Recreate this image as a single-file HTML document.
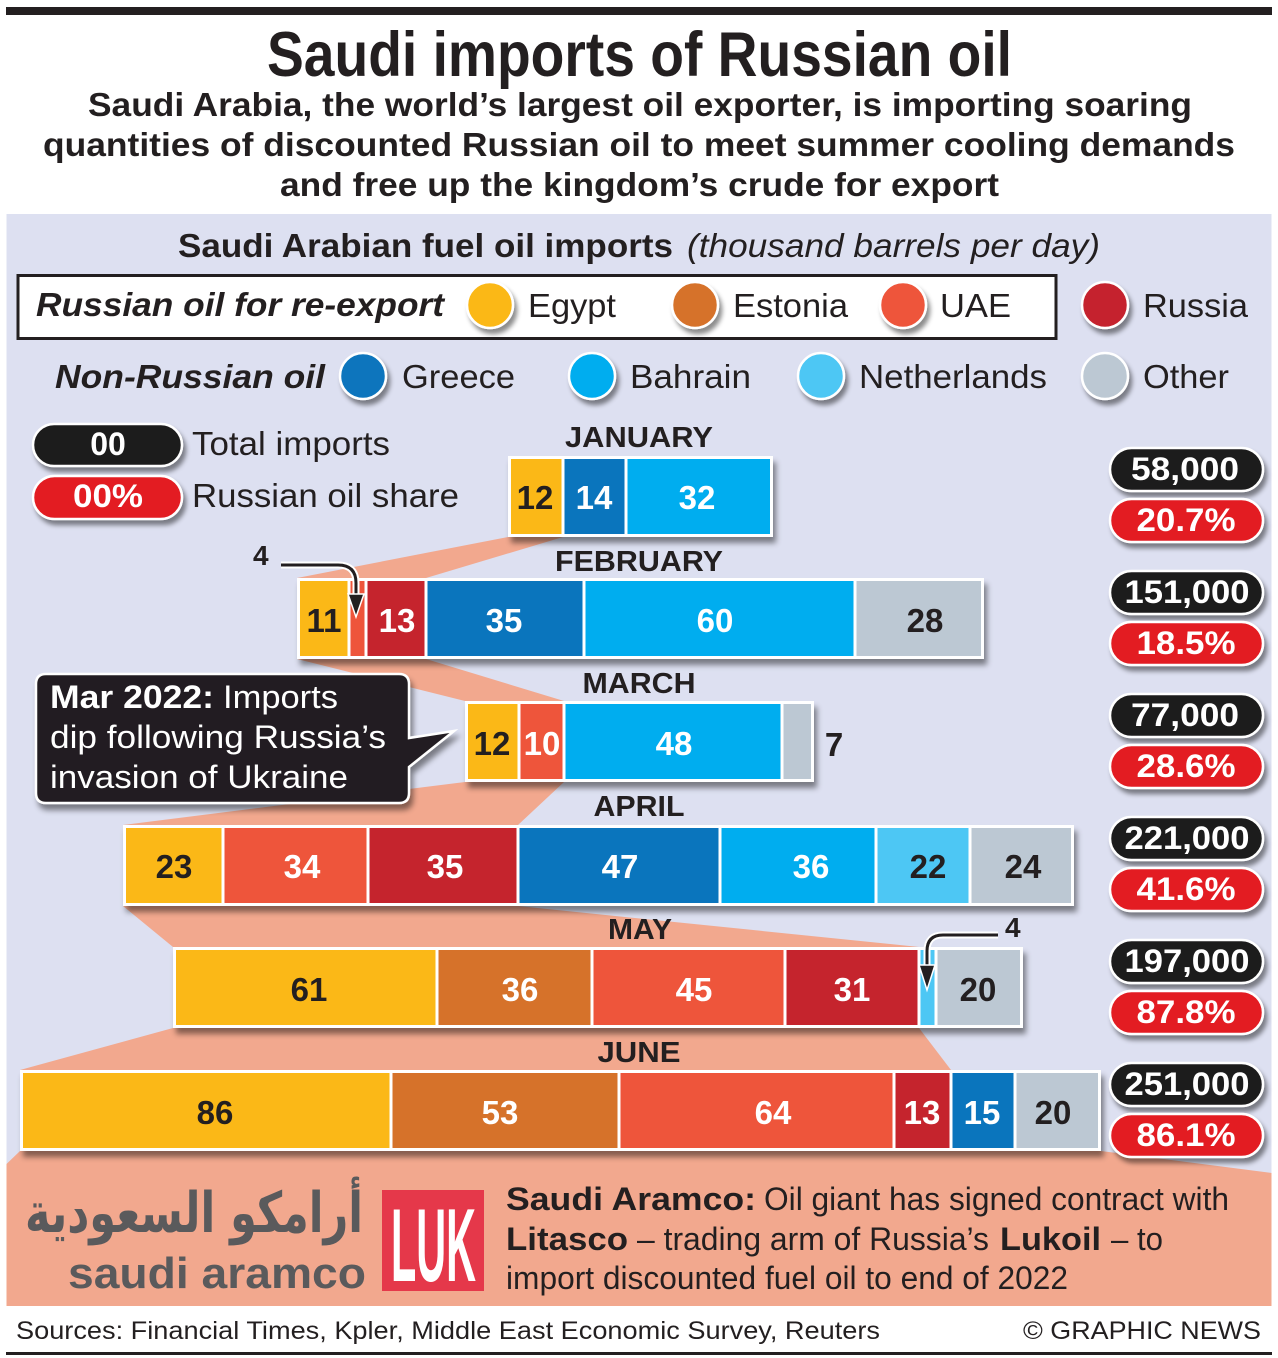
<!DOCTYPE html>
<html><head><meta charset="utf-8"><style>
html,body{margin:0;padding:0;background:#fff;}
svg{display:block;}
text{font-family:"Liberation Sans",Arial,sans-serif;fill:#231f20;}
.b{font-weight:bold;}
.w{fill:#fff;}
</style></head><body>
<svg width="1278" height="1358" viewBox="0 0 1278 1358" xmlns="http://www.w3.org/2000/svg">
<defs>
<filter id="sh" x="-20%" y="-30%" width="150%" height="180%"><feDropShadow dx="3" dy="6" stdDeviation="3" flood-color="#000" flood-opacity="0.45"/></filter>
<filter id="shs" x="-30%" y="-30%" width="180%" height="180%"><feDropShadow dx="3" dy="5" stdDeviation="2.5" flood-color="#000" flood-opacity="0.45"/></filter>
</defs>
<rect x="0" y="0" width="1278" height="1358" fill="#fff"/>
<rect x="6" y="7" width="1266" height="8" fill="#231f20"/>
<text class="b" x="267" y="76" font-size="63" textLength="745" lengthAdjust="spacingAndGlyphs">Saudi imports of Russian oil</text>
<text class="b" x="88" y="116" font-size="33" textLength="1104" lengthAdjust="spacingAndGlyphs">Saudi Arabia, the world’s largest oil exporter, is importing soaring</text>
<text class="b" x="43" y="156" font-size="33" textLength="1192" lengthAdjust="spacingAndGlyphs">quantities of discounted Russian oil to meet summer cooling demands</text>
<text class="b" x="280" y="196" font-size="33" textLength="719" lengthAdjust="spacingAndGlyphs">and free up the kingdom’s crude for export</text>

<rect x="6.5" y="214" width="1265" height="1092" fill="#dde0f1"/>

<!-- salmon bands -->
<g fill="#f2a88e">
<polygon points="508,537 563,537 426,578 297,578"/>
<polygon points="297,659 426,659 564,701 465,701"/>
<polygon points="465,782 564,782 518,825 123,825"/>
<polygon points="123,906 518,906 919,947 173,947"/>
<polygon points="173,1028 919,1028 951,1070 20,1070"/>
<polygon points="20,1151 1101,1151 1271.5,1173 1271.5,1306 6.5,1306 6.5,1164"/>
</g>

<text class="b" x="178" y="257" font-size="33" textLength="495" lengthAdjust="spacingAndGlyphs">Saudi Arabian fuel oil imports</text>
<text x="687" y="257" font-size="33" font-style="italic" textLength="413" lengthAdjust="spacingAndGlyphs">(thousand barrels per day)</text>

<rect x="18" y="275.5" width="1038" height="63" fill="#fff" stroke="#231f20" stroke-width="3"/>
<text class="b" x="36" y="316" font-size="33" font-style="italic" textLength="408" lengthAdjust="spacingAndGlyphs">Russian oil for re-export</text>
<text class="b" x="55" y="388" font-size="33" font-style="italic" textLength="270" lengthAdjust="spacingAndGlyphs">Non-Russian oil</text>

<g stroke="#fff" stroke-width="2.5" filter="url(#shs)">
<circle cx="490" cy="305" r="23" fill="#fbb817"/>
<circle cx="695" cy="305" r="23" fill="#d6722a"/>
<circle cx="903" cy="305" r="23" fill="#ee553b"/>
<circle cx="1105" cy="305" r="23" fill="#c5242d"/>
<circle cx="363" cy="376" r="23" fill="#0a75bd"/>
<circle cx="592" cy="376" r="23" fill="#00adef"/>
<circle cx="821" cy="376" r="23" fill="#4dc7f4"/>
<circle cx="1105" cy="376" r="23" fill="#bcc8d3"/>
</g>
<g font-size="33">
<text x="528" y="317" textLength="88" lengthAdjust="spacingAndGlyphs">Egypt</text>
<text x="733" y="317" textLength="115" lengthAdjust="spacingAndGlyphs">Estonia</text>
<text x="940" y="317" textLength="71" lengthAdjust="spacingAndGlyphs">UAE</text>
<text x="1143" y="317" textLength="105" lengthAdjust="spacingAndGlyphs">Russia</text>
<text x="402" y="388" textLength="113" lengthAdjust="spacingAndGlyphs">Greece</text>
<text x="630" y="388" textLength="121" lengthAdjust="spacingAndGlyphs">Bahrain</text>
<text x="859" y="388" textLength="188" lengthAdjust="spacingAndGlyphs">Netherlands</text>
<text x="1143" y="388" textLength="86" lengthAdjust="spacingAndGlyphs">Other</text>
</g>

<!-- key pills -->
<g stroke="#fff" stroke-width="2.5" filter="url(#shs)">
<rect x="33" y="424" width="149" height="42" rx="21" fill="#1d1b1c"/>
<rect x="33" y="476" width="149" height="43" rx="21.5" fill="#e31b23"/>
</g>
<text class="b w" x="108" y="455" font-size="32" text-anchor="middle">00</text>
<text class="b w" x="108" y="507" font-size="32" text-anchor="middle" textLength="70" lengthAdjust="spacingAndGlyphs">00%</text>
<text x="192" y="455" font-size="33" textLength="198" lengthAdjust="spacingAndGlyphs">Total imports</text>
<text x="192" y="507" font-size="33" textLength="267" lengthAdjust="spacingAndGlyphs">Russian oil share</text>

<!-- month labels -->
<g class="b" font-size="29" font-weight="bold" text-anchor="middle">
<text x="639" y="447" textLength="148" lengthAdjust="spacingAndGlyphs">JANUARY</text>
<text x="639" y="571" textLength="168" lengthAdjust="spacingAndGlyphs">FEBRUARY</text>
<text x="639" y="693" textLength="113" lengthAdjust="spacingAndGlyphs">MARCH</text>
<text x="639" y="816" textLength="91" lengthAdjust="spacingAndGlyphs">APRIL</text>
<text x="640" y="939" textLength="64" lengthAdjust="spacingAndGlyphs">MAY</text>
<text x="639" y="1062" textLength="83" lengthAdjust="spacingAndGlyphs">JUNE</text>
</g>

<!-- bars: white bases -->
<g fill="#fff" filter="url(#sh)">
<rect x="508" y="456" width="265" height="81"/>
<rect x="297" y="578" width="687" height="81"/>
<rect x="465" y="701" width="349" height="81"/>
<rect x="123" y="825" width="951" height="81"/>
<rect x="173" y="947" width="850" height="81"/>
<rect x="20" y="1070" width="1081" height="81"/>
</g>
<!-- January -->
<rect x="511" y="459" width="50.5" height="75" fill="#fbb817"/>
<rect x="564.5" y="459" width="60" height="75" fill="#0a75bd"/>
<rect x="627.5" y="459" width="142.5" height="75" fill="#00adef"/>
<!-- February -->
<rect x="300" y="581" width="47.5" height="75" fill="#fbb817"/>
<rect x="350.5" y="581" width="14" height="75" fill="#ee553b"/>
<rect x="367.5" y="581" width="57" height="75" fill="#c5242d"/>
<rect x="427.5" y="581" width="155" height="75" fill="#0a75bd"/>
<rect x="585.5" y="581" width="268" height="75" fill="#00adef"/>
<rect x="856.5" y="581" width="124.5" height="75" fill="#bcc8d3"/>
<!-- March -->
<rect x="468" y="704" width="49.5" height="75" fill="#fbb817"/>
<rect x="520.5" y="704" width="42" height="75" fill="#ee553b"/>
<rect x="565.5" y="704" width="215" height="75" fill="#00adef"/>
<rect x="783.5" y="704" width="27.5" height="75" fill="#bcc8d3"/>
<!-- April -->
<rect x="126" y="828" width="95.5" height="75" fill="#fbb817"/>
<rect x="224.5" y="828" width="142" height="75" fill="#ee553b"/>
<rect x="369.5" y="828" width="147" height="75" fill="#c5242d"/>
<rect x="519.5" y="828" width="199" height="75" fill="#0a75bd"/>
<rect x="721.5" y="828" width="153" height="75" fill="#00adef"/>
<rect x="877.5" y="828" width="91" height="75" fill="#4dc7f4"/>
<rect x="971.5" y="828" width="99.5" height="75" fill="#bcc8d3"/>
<!-- May -->
<rect x="176" y="950" width="259.5" height="75" fill="#fbb817"/>
<rect x="438.5" y="950" width="152" height="75" fill="#d6722a"/>
<rect x="593.5" y="950" width="190" height="75" fill="#ee553b"/>
<rect x="786.5" y="950" width="131" height="75" fill="#c5242d"/>
<rect x="920.5" y="950" width="14" height="75" fill="#4dc7f4"/>
<rect x="937.5" y="950" width="82.5" height="75" fill="#bcc8d3"/>
<!-- June -->
<rect x="23" y="1073" width="366.5" height="75" fill="#fbb817"/>
<rect x="392.5" y="1073" width="225" height="75" fill="#d6722a"/>
<rect x="620.5" y="1073" width="272" height="75" fill="#ee553b"/>
<rect x="895.5" y="1073" width="54" height="75" fill="#c5242d"/>
<rect x="952.5" y="1073" width="61" height="75" fill="#0a75bd"/>
<rect x="1016.5" y="1073" width="81.5" height="75" fill="#bcc8d3"/>

<!-- bar labels -->
<g class="b" font-size="33" font-weight="bold" text-anchor="middle">
<text x="535" y="509">12</text>
<text class="w" x="594" y="509">14</text>
<text class="w" x="697" y="509">32</text>

<text x="324" y="632">11</text>
<text class="w" x="397" y="632">13</text>
<text class="w" x="504" y="632">35</text>
<text class="w" x="715" y="632">60</text>
<text x="925" y="632">28</text>

<text x="492" y="755">12</text>
<text class="w" x="542" y="755">10</text>
<text class="w" x="674" y="755">48</text>
<text x="834" y="756">7</text>

<text x="174" y="878">23</text>
<text class="w" x="302" y="878">34</text>
<text class="w" x="445" y="878">35</text>
<text class="w" x="620" y="878">47</text>
<text class="w" x="811" y="878">36</text>
<text x="928" y="878">22</text>
<text x="1023" y="878">24</text>

<text x="309" y="1001">61</text>
<text class="w" x="520" y="1001">36</text>
<text class="w" x="694" y="1001">45</text>
<text class="w" x="852" y="1001">31</text>
<text x="978" y="1001">20</text>

<text x="215" y="1124">86</text>
<text class="w" x="500" y="1124">53</text>
<text class="w" x="773" y="1124">64</text>
<text class="w" x="922" y="1124">13</text>
<text class="w" x="982" y="1124">15</text>
<text x="1053" y="1124">20</text>
</g>

<!-- small "4" annotations -->
<text class="b" x="253" y="565" font-size="28" font-weight="bold">4</text>
<path d="M281 565 H338 Q356 565 356 583 V598" fill="none" stroke="#fff" stroke-width="7"/>
<path d="M281 565 H338 Q356 565 356 583 V598" fill="none" stroke="#231f20" stroke-width="3"/>
<polygon points="348,594 364,594 356,617" fill="#231f20" stroke="#fff" stroke-width="1.5"/>

<text class="b" x="1005" y="937" font-size="28" font-weight="bold">4</text>
<path d="M998 935 H943 Q927 935 927 951 V968" fill="none" stroke="#fff" stroke-width="7"/>
<path d="M998 935 H943 Q927 935 927 951 V968" fill="none" stroke="#231f20" stroke-width="3"/>
<polygon points="919,965 935,965 927,990" fill="#231f20" stroke="#fff" stroke-width="1.5"/>

<!-- callout -->
<g filter="url(#sh)">
<path d="M46 674 H399 Q409 674 409 684 V738 L454 731 L409 767 V793 Q409 803 399 803 H46 Q36 803 36 793 V684 Q36 674 46 674 Z" fill="#231f20" stroke="#fff" stroke-width="2.5"/>
</g>
<text class="b w" x="50" y="708" font-size="32" font-weight="bold" textLength="164" lengthAdjust="spacingAndGlyphs">Mar 2022:</text>
<text class="w" x="223" y="708" font-size="32" textLength="115" lengthAdjust="spacingAndGlyphs">Imports</text>
<text class="w" x="50" y="748" font-size="32" textLength="336" lengthAdjust="spacingAndGlyphs">dip following Russia’s</text>
<text class="w" x="50" y="788" font-size="32" textLength="298" lengthAdjust="spacingAndGlyphs">invasion of Ukraine</text>

<!-- right pills -->
<g stroke="#fff" stroke-width="2.5" filter="url(#shs)">
<rect x="1110" y="448" width="153" height="43" rx="21.5" fill="#1d1b1c"/>
<rect x="1110" y="499" width="153" height="43" rx="21.5" fill="#e31b23"/>
<rect x="1110" y="571" width="153" height="43" rx="21.5" fill="#1d1b1c"/>
<rect x="1110" y="622" width="153" height="43" rx="21.5" fill="#e31b23"/>
<rect x="1110" y="694" width="153" height="43" rx="21.5" fill="#1d1b1c"/>
<rect x="1110" y="745" width="153" height="43" rx="21.5" fill="#e31b23"/>
<rect x="1110" y="817" width="153" height="43" rx="21.5" fill="#1d1b1c"/>
<rect x="1110" y="868" width="153" height="43" rx="21.5" fill="#e31b23"/>
<rect x="1110" y="940" width="153" height="43" rx="21.5" fill="#1d1b1c"/>
<rect x="1110" y="991" width="153" height="43" rx="21.5" fill="#e31b23"/>
<rect x="1110" y="1063" width="153" height="43" rx="21.5" fill="#1d1b1c"/>
<rect x="1110" y="1114" width="153" height="43" rx="21.5" fill="#e31b23"/>
</g>
<g class="b w" font-size="32" font-weight="bold" text-anchor="middle">
<text class="w" x="1185" y="480" textLength="108" lengthAdjust="spacingAndGlyphs">58,000</text>
<text class="w" x="1186" y="531" textLength="99" lengthAdjust="spacingAndGlyphs">20.7%</text>
<text class="w" x="1187" y="603" textLength="125" lengthAdjust="spacingAndGlyphs">151,000</text>
<text class="w" x="1186" y="654" textLength="99" lengthAdjust="spacingAndGlyphs">18.5%</text>
<text class="w" x="1185" y="726" textLength="108" lengthAdjust="spacingAndGlyphs">77,000</text>
<text class="w" x="1186" y="777" textLength="99" lengthAdjust="spacingAndGlyphs">28.6%</text>
<text class="w" x="1187" y="849" textLength="125" lengthAdjust="spacingAndGlyphs">221,000</text>
<text class="w" x="1186" y="900" textLength="99" lengthAdjust="spacingAndGlyphs">41.6%</text>
<text class="w" x="1187" y="972" textLength="125" lengthAdjust="spacingAndGlyphs">197,000</text>
<text class="w" x="1186" y="1023" textLength="99" lengthAdjust="spacingAndGlyphs">87.8%</text>
<text class="w" x="1187" y="1095" textLength="125" lengthAdjust="spacingAndGlyphs">251,000</text>
<text class="w" x="1186" y="1146" textLength="99" lengthAdjust="spacingAndGlyphs">86.1%</text>
</g>

<!-- logos -->
<text x="194" y="1232" font-size="56" font-weight="bold" text-anchor="middle" style="font-family:'DejaVu Sans',sans-serif;fill:#5a5a5c" textLength="338" lengthAdjust="spacingAndGlyphs">أرامكو السعودية</text>
<text x="68" y="1288" font-size="44" font-weight="bold" style="fill:#5a5a5c" textLength="298" lengthAdjust="spacingAndGlyphs">saudi aramco</text>
<rect x="382" y="1190" width="102" height="101" fill="#e5384a"/>
<text class="b w" x="391" y="1281" font-size="104" font-weight="bold" textLength="85" lengthAdjust="spacingAndGlyphs">LUK</text>

<text class="b" x="506" y="1210" font-size="32" font-weight="bold" textLength="250" lengthAdjust="spacingAndGlyphs">Saudi Aramco:</text>
<text x="764" y="1210" font-size="32" textLength="465" lengthAdjust="spacingAndGlyphs">Oil giant has signed contract with</text>
<text class="b" x="506" y="1250" font-size="32" font-weight="bold" textLength="122" lengthAdjust="spacingAndGlyphs">Litasco</text>
<text x="637" y="1250" font-size="32" textLength="352" lengthAdjust="spacingAndGlyphs">– trading arm of Russia’s</text>
<text class="b" x="1000" y="1250" font-size="32" font-weight="bold" textLength="101" lengthAdjust="spacingAndGlyphs">Lukoil</text>
<text x="1111" y="1250" font-size="32" textLength="52" lengthAdjust="spacingAndGlyphs">– to</text>
<text x="506" y="1289" font-size="32" textLength="562" lengthAdjust="spacingAndGlyphs">import discounted fuel oil to end of 2022</text>

<!-- footer -->
<text x="16" y="1339" font-size="25" textLength="864" lengthAdjust="spacingAndGlyphs">Sources: Financial Times, Kpler, Middle East Economic Survey, Reuters</text>
<text x="1023" y="1339" font-size="25" textLength="238" lengthAdjust="spacingAndGlyphs">© GRAPHIC NEWS</text>
<rect x="6" y="1352" width="1266" height="3" fill="#231f20"/>
</svg>
</body></html>
